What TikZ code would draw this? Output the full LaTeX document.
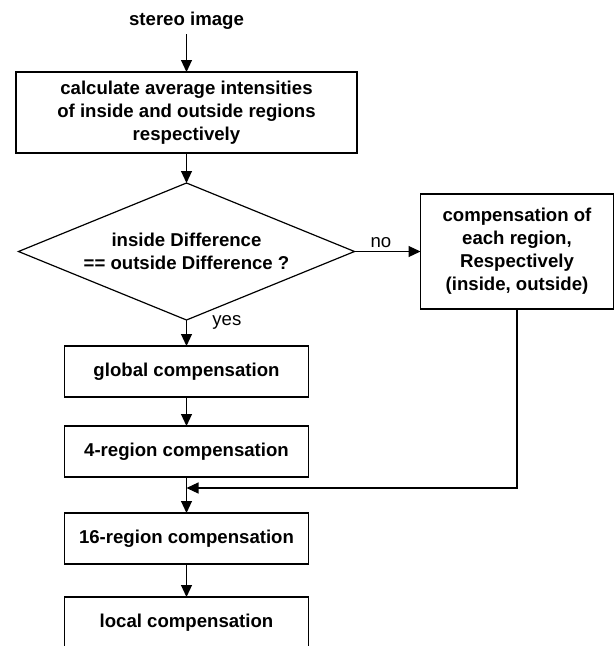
\documentclass[tikz,border=0pt]{standalone}
\usepackage{fontspec}
\setmainfont{Liberation Sans}
\usetikzlibrary{arrows.meta,positioning,shapes.geometric}

\begin{document}
\begin{tikzpicture}[x=1pt,y=-1pt,>={Triangle[length=12pt,width=11pt]},
    every node/.style={font=\fontsize{18.6}{23}\selectfont},
    stepbox/.style={draw,line width=1.3pt,align=center,inner sep=0pt,outer sep=0pt,
        minimum width=244pt,minimum height=51pt,font=\bfseries\fontsize{18.6}{23}\selectfont},
    decision/.style={draw,diamond,aspect=2.45,line width=1.2pt,align=center,inner sep=0pt,outer sep=0pt,
        minimum width=336pt,minimum height=137pt,font=\bfseries\fontsize{18.6}{23}\selectfont},
    flow/.style={->,line width=1.1pt}]

    \useasboundingbox (0,0) rectangle (616,646);

    \node[stepbox,minimum width=341pt,minimum height=81pt] (calc) at (186.5,112.5)
        {calculate average intensities\\of inside and outside regions\\respectively};

    \node[font=\bfseries\fontsize{18.6}{23}\selectfont,inner sep=4pt] (src) [above=38pt of calc] {stereo image};

    \node[decision] (diff) [below=30pt of calc] {inside Difference\\== outside Difference ?};

    \node[stepbox,minimum width=193pt,minimum height=115pt] (side) [right=66pt of diff]
        {compensation of\\each region,\\Respectively\\(inside, outside)};

    \node[stepbox] (glob) [below=26pt of diff] {global compensation};

    \node[stepbox] (reg4) [below=29pt of glob] {4-region compensation};

    \node[stepbox] (reg16) [below=36pt of reg4] {16-region compensation};

    \node[stepbox] (loc) [below=33pt of reg16] {local compensation};

    \coordinate (merge) at ([yshift=-11pt]reg4.south);

    \foreach \from/\to in {src/calc, calc/diff, glob/reg4, reg4/reg16, reg16/loc}
    {
        \draw[flow] (\from) -- (\to);
    }
    \draw[flow] (diff.east) -- node[above,pos=0.4] {no} (side.west);
    \draw[flow] (diff.south) -- node[right=22pt,pos=0.1] {yes} (glob.north);
    \draw[flow] (side.south) |- (merge);

\end{tikzpicture}
\end{document}
